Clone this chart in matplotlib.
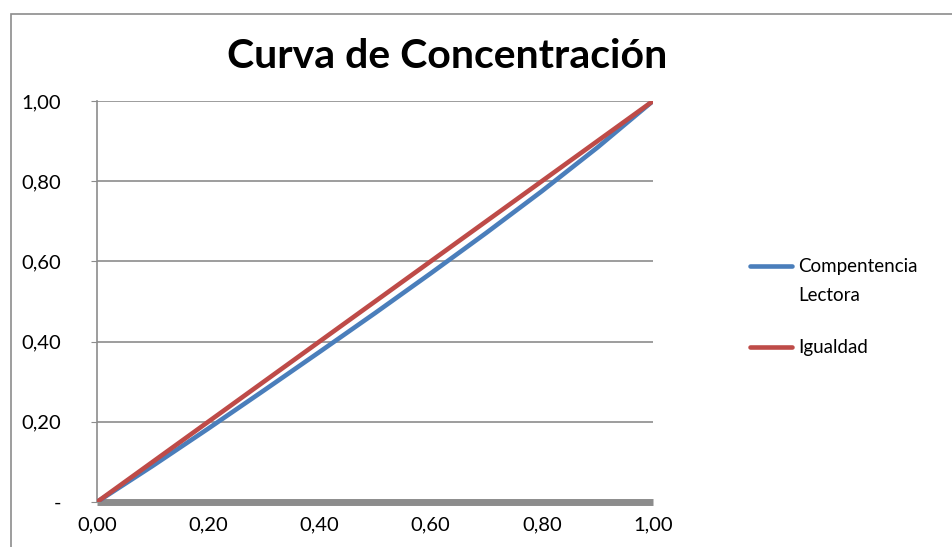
import matplotlib.pyplot as plt
from matplotlib.patches import Rectangle
from matplotlib.lines import Line2D

plt.rcParams['font.family'] = ['Lato', 'DejaVu Sans']

x = [0.0, 0.1, 0.2, 0.3, 0.4, 0.5, 0.6, 0.7, 0.8, 0.9, 1.0]
lectora = [0.0, 0.09, 0.183, 0.278, 0.374, 0.471, 0.57, 0.671, 0.775, 0.884, 1.0]
igualdad = [0.0, 0.1, 0.2, 0.3, 0.4, 0.5, 0.6, 0.7, 0.8, 0.9, 1.0]
ticks = [0.0, 0.2, 0.4, 0.6, 0.8, 1.0]
xlabels = ['0,00', '0,20', '0,40', '0,60', '0,80', '1,00']
ylabels = ['-', '0,20', '0,40', '0,60', '0,80', '1,00']
names = ['Compentencia\nLectora', 'Igualdad']

W, H = 952, 547
fig = plt.figure(figsize=(W / 100, H / 100), dpi=100)
ax = fig.add_axes([97 / W, 45 / H, 556 / W, 401 / H])

# chart border
fig.patches.append(Rectangle((11 / W, -0.01), 1.0, (H - 14) / H + 0.01,
                             transform=fig.transFigure, fill=False,
                             edgecolor='#8c8c8c', linewidth=1.2))

for t in ticks[1:]:
    ax.axhline(t, color='#8c8c8c', linewidth=1.2, zorder=1)

l1, = ax.plot(x, lectora, color='#4a7ebb', linewidth=3.3, zorder=3)
l2, = ax.plot(x, igualdad, color='#be4b48', linewidth=3.3, zorder=4)

ax.set_xlim(0, 1.0)
ax.set_ylim(0, 1.0)
ax.set_xticks(ticks)
ax.set_xticklabels(xlabels, fontsize=14.5)
ax.set_yticks(ticks)
ax.set_yticklabels(ylabels, fontsize=14.5)
ax.tick_params(axis='x', length=0, pad=10)
ax.tick_params(axis='y', length=4, color='#8c8c8c', pad=22)
for lab in ax.get_yticklabels():
    lab.set_horizontalalignment('right')

ax.spines['top'].set_visible(False)
ax.spines['right'].set_visible(False)
ax.spines['left'].set_color('#8c8c8c')
ax.spines['left'].set_linewidth(1.2)
ax.spines['bottom'].set_color('#8c8c8c')
ax.spines['bottom'].set_linewidth(5)
ax.spines['bottom'].set_capstyle('butt')

fig.text(447 / W, 1 - 57 / H, 'Curva de Concentración', fontsize=29.5,
         fontweight='bold', ha='center', va='center')

# legend, Excel style: handle next to first line of the label
for line, name, ly in [(l1, names[0], 266), (l2, names[1], 347)]:
    fig.add_artist(Line2D([750 / W, 792 / W], [1 - ly / H, 1 - ly / H],
                          color=line.get_color(), linewidth=3.3,
                          solid_capstyle='round', transform=fig.transFigure))
    fig.text(798 / W, 1 - (ly - 8) / H, name, fontsize=13.5, ha='left',
             va='top', linespacing=1.85)

fig.savefig('out.png', dpi=100)
